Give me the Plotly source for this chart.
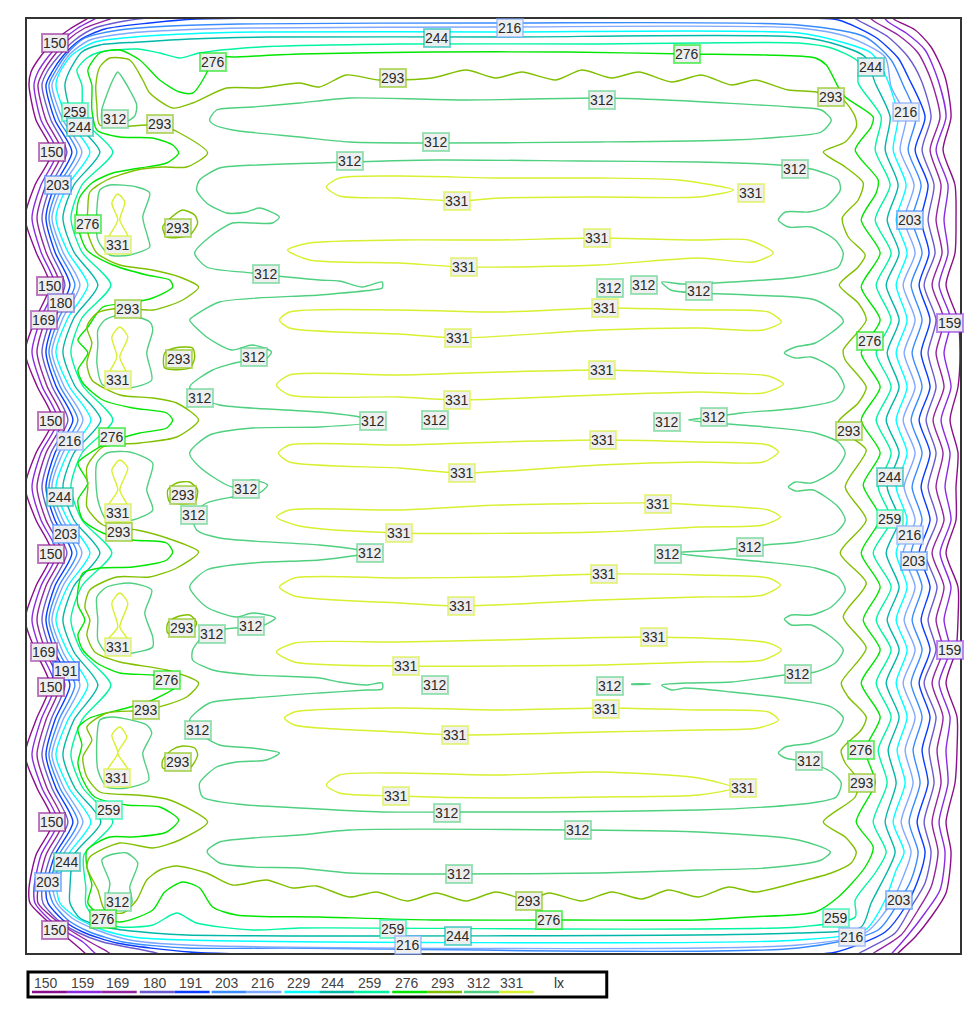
import plotly.graph_objects as go

levels = [150, 159, 169, 180, 191, 203, 216, 229, 244, 259, 276, 293, 312, 331]
level_colors = ["#8b0f8b", "#8a2be2", "#93249f", "#6a5acd", "#0a3cff", "#3a8bff", "#7fa8ff",
                "#00ffff", "#00b8a8", "#00f5a0", "#00e600", "#80c000", "#4fd080", "#d8f030"]

# Outer rings: x on left side per row, x on right side per row, and four corners
left_rows = [85,120,152,185,218,252,285,318,352,386,420,453,487,520,553,586,620,652,685,720,755,788,822,855,888]
left_150 = [29,36,52,35,25,36,50,36,25,37,53,36,25,36,52,36,25,36,50,36,25,37,53,36,29]
left_159 = [34,41,57,41,32,41,55,41,32,42,58,41,32,41,57,41,32,41,55,41,32,42,58,41,34]
left_169 = [38,46,62,46,37,46,60,46,37,47,63,46,37,46,62,46,37,46,60,46,37,47,63,46,38]
left_180 = [42,51,67,51,42,51,65,51,42,52,68,51,42,51,67,51,42,51,65,51,42,52,68,51,42]
left_191 = [46,55,72,55,46,55,70,55,46,56,73,55,46,55,72,55,46,55,70,55,46,56,73,55,46]
left_203 = [49,59,77,59,49,59,75,59,49,60,78,59,49,59,77,59,49,59,75,59,49,60,78,59,49]
left_216 = [52,63,82,63,52,63,80,63,52,64,83,63,52,63,82,63,52,63,80,63,52,64,83,63,53]
left_229 = [56,68,90,68,56,68,88,68,56,69,91,68,56,68,90,68,56,68,88,68,56,69,91,68,57]
left_244 = [65,74,100,74,63,74,98,74,63,75,101,74,63,74,100,74,63,74,98,74,63,75,101,74,70]
left_259 = [82,84,113,82,71,82,111,82,71,83,113,82,71,82,112,82,71,82,111,82,71,83,113,84,86]

right_rows = [117,150,185,220,253,285,320,353,387,420,453,487,520,553,587,620,650,683,717,750,783,822,852]
right_150 = [953,945,957,958,957,948,960,962,960,952,960,958,958,948,960,960,958,948,959,959,957,948,953]
right_159 = [948,938,950,946,950,941,953,946,953,943,952,947,953,942,953,946,952,941,952,948,950,941,947]
right_169 = [942,932,943,938,944,934,946,938,946,935,945,938,946,934,946,938,945,934,945,939,943,934,940]
right_180 = [933,924,936,930,937,926,938,930,938,928,938,930,939,927,939,930,938,926,938,931,936,926,933]
right_191 = [927,917,930,923,931,921,932,923,932,921,932,923,932,921,932,923,932,921,932,924,930,919,927]
right_203 = [918,910,923,914,924,913,924,914,924,913,924,914,924,913,924,914,924,913,924,915,922,911,920]
right_216 = [908,902,916,906,917,905,917,906,917,905,917,906,917,905,917,906,917,905,917,907,915,903,913]
right_229 = [900,895,908,898,909,898,909,898,909,898,909,898,909,898,909,898,909,898,909,899,907,895,906]
right_244 = [892,887,900,889,901,888,901,889,901,888,901,889,901,888,901,889,901,888,901,890,898,887,897]
right_259 = [883,877,892,877,893,878,893,878,893,878,893,880,893,875,893,878,893,878,893,880,889,875,888]

tl_150 = [(31,72),(38,60),(53,42),(70,29),(87,19),(100,11)]
tl_159 = [(38,72),(48,57),(63,40),(78,28),(95,19),(110,11)]
tl_169 = [(43,72),(53,57),(68,40),(85,28),(110,19),(130,11)]
tl_180 = [(47,72),(58,57),(75,40),(95,28),(125,21),(155,17),(200,11)]
tl_191 = [(52,72),(63,56),(80,40),(105,29),(150,23),(197,19),(300,18),(500,17)]
tl_203 = [(55,72),(67,54),(85,38),(120,30),(170,26),(240,24),(500,23)]
tl_216 = [(58,72),(70,54),(90,40),(130,33),(180,30),(250,28),(500,27)]
tl_229 = [(60,72),(72,55),(95,42),(135,37),(185,34),(260,32),(500,32)]
tl_244 = [(70,70),(82,52),(100,45),(140,42),(190,39),(270,37),(500,37)]
tl_259 = [(77,70),(87,58),(100,52),(137,49),(160,53),(180,58),(200,53),(260,47),(400,44),(600,44)]

tr_150 = [(885,11),(897,20),(917,30),(933,47),(947,77)]
tr_159 = [(878,11),(890,22),(908,33),(927,50),(940,80)]
tr_169 = [(860,11),(877,22),(900,35),(920,53),(933,80)]
tr_180 = [(840,11),(863,22),(890,37),(910,57),(923,80)]
tr_191 = [(800,18),(840,20),(877,37),(900,58),(910,77)]
tr_203 = [(800,25),(867,37),(893,60),(905,85)]
tr_216 = [(800,28),(850,37),(887,57),(893,87)]
tr_229 = [(800,33),(843,42),(873,53),(888,77)]
tr_244 = [(800,37),(840,45),(867,57),(877,83)]
tr_259 = [(700,43),(800,43),(833,48),(860,62),(860,83)]

br_150 = [(890,962),(900,953),(917,937),(933,917),(948,893)]
br_159 = [(885,962),(895,952),(910,935),(927,913),(942,890)]
br_169 = [(860,962),(877,952),(903,935),(920,910),(933,887)]
br_180 = [(845,962),(863,952),(897,933),(913,907),(927,883)]
br_191 = [(800,955),(838,952),(887,932),(907,907),(920,880)]
br_203 = [(800,948),(880,930),(900,903),(913,880)]
br_216 = [(800,945),(867,933),(893,903),(905,877)]
br_229 = [(800,940),(867,930),(887,900),(898,870)]
br_244 = [(800,933),(863,927),(873,903),(890,870)]
br_259 = [(800,927),(857,917),(857,900),(877,873)]

bl_150 = [(30,903),(43,917),(57,930),(70,940),(85,953),(95,962)]
bl_159 = [(35,903),(50,920),(63,930),(83,942),(95,953),(105,962)]
bl_169 = [(38,903),(53,918),(70,930),(90,942),(108,952),(125,962)]
bl_180 = [(43,903),(58,920),(77,932),(103,942),(153,952),(190,962)]
bl_191 = [(48,903),(63,920),(83,932),(117,943),(190,952),(300,955)]
bl_203 = [(53,903),(68,920),(90,932),(123,942),(187,948),(287,948)]
bl_216 = [(57,903),(72,918),(97,930),(130,940),(187,945)]
bl_229 = [(60,903),(77,918),(103,930),(133,937),(187,940)]
bl_244 = [(70,903),(80,918),(110,928),(153,933),(187,935)]
bl_259 = [(86,905),(97,920),(120,927),(153,925),(177,913),(197,923),(253,930),(300,928)]

# Inner isolines (closed)
iso_276 = [(97,130),(92,110),(92,85),(88,70),(100,53),(120,50),(140,60),(160,80),(180,92),(193,93),(207,73),(213,57),(233,57),(300,54),(433,52),(567,52),(688,54),(767,55),(817,58),(828,65),(840,87),(847,97),(875,117),(873,127),(857,150),(880,180),(878,193),(863,220),(882,253),(863,287),(882,320),(863,353),(882,387),(863,420),(882,453),(865,485),(882,518),(863,553),(882,587),(865,620),(882,650),(863,683),(882,717),(867,750),(877,783),(858,822),(875,847),(867,867),(840,897),(817,912),(750,917),(700,920),(567,920),(433,920),(320,917),(237,915),(213,907),(200,888),(183,882),(165,892),(153,910),(120,922),(100,915),(88,903),(92,885),(87,867),(87,850),(110,837),(133,837),(167,832),(179,820),(160,807),(127,805),(95,797),(83,780),(78,763),(82,745),(78,728),(90,718),(127,708),(153,700),(175,688),(180,680),(153,675),(120,673),(97,663),(83,650),(78,635),(85,620),(78,605),(78,590),(83,573),(100,568),(133,567),(167,560),(173,552),(167,543),(133,540),(103,533),(83,520),(78,500),(88,483),(78,463),(90,453),(110,442),(140,433),(167,428),(173,420),(167,413),(133,408),(103,400),(83,383),(78,370),(88,353),(78,340),(88,327),(103,307),(130,303),(153,298),(173,287),(170,280),(147,275),(113,265),(87,250),(78,227),(77,210),(80,197),(92,183),(113,173),(140,168),(167,163),(179,153),(173,145),(153,138),(120,137)]

iso_293 = [(100,125),(97,105),(96,85),(100,67),(110,58),(130,60),(143,80),(150,93),(173,108),(193,103),(227,88),(260,88),(300,83),(320,87),(347,75),(380,80),(433,78),(467,70),(497,78),(523,72),(557,80),(583,70),(613,78),(640,72),(673,82),(703,75),(733,85),(757,80),(790,90),(818,92),(845,100),(857,117),(858,127),(847,142),(825,152),(847,167),(865,183),(860,200),(844,218),(850,237),(867,255),(860,267),(841,285),(860,303),(868,320),(845,350),(847,360),(868,387),(860,403),(840,422),(850,435),(868,450),(847,487),(868,520),(842,553),(868,583),(845,617),(868,648),(843,683),(850,697),(868,717),(863,730),(843,750),(847,763),(860,780),(857,797),(825,822),(847,837),(858,852),(853,863),(833,873),(800,882),(757,892),(730,887),(700,897),(670,890),(643,899),(613,892),(583,901),(550,893),(530,900),(497,892),(467,901),(437,893),(408,901),(377,892),(350,897),(317,886),(293,888),(267,880),(233,885),(207,873),(177,866),(160,870),(147,880),(137,900),(123,913),(105,910),(98,890),(87,867),(90,857),(120,843),(153,848),(180,840),(208,822),(170,800),(137,795),(100,792),(87,777),(83,757),(92,740),(87,727),(107,713),(147,710),(187,697),(199,683),(167,670),(120,662),(95,652),(87,635),(90,620),(85,607),(90,590),(117,577),(150,577),(177,568),(199,552),(167,538),(137,530),(103,525),(87,507),(88,487),(87,467),(103,447),(140,443),(177,437),(199,420),(177,403),(153,398),(120,395),(92,380),(87,363),(92,343),(87,327),(97,313),(120,308),(153,310),(183,300),(199,287),(180,277),(153,270),(120,265),(97,253),(88,233),(88,207),(90,192),(107,180),(137,170),(163,167),(187,167),(208,153),(180,133),(160,125)]

spot_293_a = [(172,217),(183,210),(195,215),(198,223),(190,235),(167,237),(163,227)]
spot_293_b = [(165,353),(175,348),(193,348),(195,358),(190,368),(165,368)]
spot_293_c = [(168,490),(177,483),(190,482),(198,490),(195,502),(170,502)]
spot_293_d = [(168,623),(177,617),(190,615),(197,623),(190,633),(168,633)]
spot_293_e = [(172,750),(183,746),(195,748),(198,755),(190,768),(163,768),(163,760)]

comb_312 = [(220,168),(237,166),(320,163),(438,160),(580,161),(700,162),(780,165),(817,170),(840,180),(842,190),(827,207),(810,212),(787,212),(780,220),(790,227),(813,227),(837,240),(845,253),(840,267),(800,277),(733,282),(683,284),(663,282),(672,290),(700,293),(750,295),(817,300),(843,317),(845,322),(817,343),(797,347),(786,353),(797,358),(813,357),(837,370),(846,387),(837,400),(800,408),(743,413),(715,417),(690,420),(715,423),(730,424),(767,427),(817,433),(840,442),(847,453),(837,470),(813,483),(797,482),(790,487),(797,491),(815,490),(840,507),(847,520),(837,533),(800,542),(767,545),(723,550),(685,552),(675,553),(700,556),(723,558),(767,562),(817,568),(840,577),(847,590),(833,607),(813,615),(793,615),(786,619),(793,625),(813,625),(833,637),(845,650),(837,663),(817,672),(787,675),(733,682),(687,683),(663,685),(673,690),(687,688),(733,692),(800,700),(833,707),(845,718),(837,733),(813,743),(787,747),(780,753),(787,758),(811,762),(833,772),(843,783),(838,797),(813,803),(767,807),(700,810),(550,812),(448,812),(383,812),(300,808),(237,804),(203,797),(200,783),(217,767),(237,762),(267,760),(280,753),(253,748),(220,745),(198,732),(190,720),(210,703),(253,698),(320,693),(367,690),(383,689),(383,683),(367,685),(340,682),(320,678),(253,675),(213,670),(193,660),(193,650),(207,633),(235,628),(260,627),(276,618),(253,613),(237,617),(207,607),(190,587),(207,570),(253,563),(320,560),(360,555),(372,553),(360,550),(320,545),(220,538),(197,530),(193,515),(207,503),(233,497),(260,493),(268,485),(253,480),(233,487),(200,467),(190,453),(210,435),(253,428),(320,427),(372,422),(360,417),(320,412),(220,405),(200,397),(190,387),(213,370),(240,362),(265,360),(272,352),(253,345),(232,350),(207,337),(190,320),(193,317),(220,302),(320,295),(373,290),(383,288),(383,282),(363,287),(340,281),(320,280),(253,273),(207,267),(195,253),(210,237),(233,223),(253,223),(273,223),(280,217),(260,208),(247,212),(227,213),(207,203),(197,190),(200,180)]
top_312 = [(210,120),(217,110),(253,107),(300,103),(350,98),(467,100),(600,98),(667,100),(793,107),(823,110),(833,120),(823,132),(783,137),(733,140),(600,142),(440,143),(350,142),(300,137),(233,130),(215,125)]
bottom_312 = [(208,850),(220,842),(253,838),(300,835),(350,830),(580,830),(700,832),(800,840),(832,852),(823,860),(767,868),(700,870),(600,873),(460,874),(350,873),(300,868),(253,867),(220,863),(208,853)]
corner_312_a = [(118,72),(124,80),(131,92),(137,105),(135,116),(123,123),(103,123),(102,110),(108,92),(113,80)]
corner_312_b = [(102,860),(110,855),(127,853),(138,863),(130,887),(132,903),(107,907),(110,883)]
peak_312_a = [(100,190),(110,185),(137,187),(150,193),(143,217),(148,237),(150,247),(130,255),(110,255),(98,240),(97,210)]
peak_312_b = [(98,330),(105,320),(125,314),(150,322),(153,330),(147,353),(152,380),(130,388),(103,385),(97,363),(98,345)]
peak_312_c = [(97,463),(107,453),(130,452),(153,463),(147,490),(153,510),(133,520),(107,520),(98,500)]
peak_312_d = [(97,597),(107,587),(130,583),(152,590),(145,613),(153,637),(153,647),(133,653),(107,653),(98,640),(98,620)]
peak_312_e = [(100,720),(113,717),(147,725),(152,733),(143,753),(149,780),(127,788),(107,787),(98,770),(97,740)]
dash_312 = [(633,684),(652,684),(633,684.5)]

band_331_a = [(327,187),(340,178),(400,176),(500,178),(600,178),(680,180),(735,190),(700,197),(600,197),(500,198),(459,201),(400,198),(340,196)]
band_331_b = [(288,250),(310,243),(400,240),(500,240),(598,238),(700,240),(750,240),(775,253),(755,262),(700,258),(600,265),(465,267),(400,263),(310,260)]
band_331_c = [(280,320),(290,312),(400,310),(500,312),(607,308),(700,310),(770,312),(783,322),(765,330),(700,328),(600,330),(460,338),(400,334),(290,328)]
band_331_d = [(277,385),(290,375),(400,375),(500,372),(603,370),(700,373),(770,376),(785,384),(765,393),(700,392),(600,395),(458,400),(400,397),(290,395)]
band_331_e = [(279,453),(290,445),(400,445),(500,442),(604,440),(700,442),(770,445),(780,452),(765,462),(700,462),(600,465),(463,473),(400,468),(290,462)]
band_331_f = [(277,517),(290,510),(400,510),(500,505),(659,503),(700,505),(770,510),(782,517),(765,525),(700,527),(600,532),(400,533),(300,526)]
band_331_g = [(280,587),(295,578),(400,578),(500,577),(605,574),(700,575),(770,578),(782,585),(765,595),(700,597),(600,600),(462,606),(400,603),(295,596)]
band_331_h = [(277,652),(295,643),(400,642),(500,640),(655,637),(770,643),(783,650),(765,660),(700,662),(600,665),(407,666),(295,662)]
band_331_i = [(285,718),(295,712),(400,708),(500,710),(607,708),(700,710),(770,712),(780,720),(760,728),(700,730),(600,732),(456,735),(400,732),(295,725)]
band_331_j = [(327,785),(340,775),(400,773),(500,775),(600,772),(700,778),(735,788),(700,795),(600,797),(500,798),(398,796),(340,793)]
glass_331_a = [(118,194),(125,202),(120,220),(128,237),(108,240),(118,220),(112,203)]
glass_331_b = [(120,327),(128,337),(120,357),(128,377),(108,377),(117,357),(112,337)]
glass_331_c = [(120,460),(128,468),(120,490),(128,507),(108,507),(118,490),(112,470)]
glass_331_d = [(120,593),(128,603),(120,627),(128,640),(108,640),(118,627),(112,603)]
glass_331_e = [(120,727),(127,737),(118,753),(128,770),(108,770),(118,753),(112,735)]

# Contour labels
label_text = [216,150,244,276,276,244,293,293,312,259,216,312,244,293,312,150,312,312,203,331,331,276,293,203,331,331,312,331,150,312,312,312,180,293,331,169,159,331,276,312,293,331,331,331,312,312,312,312,312,150,293,216,276,331,331,244,244,293,312,331,331,312,259,331,293,203,216,150,312,312,312,203,331,331,293,312,312,331,331,159,169,191,331,312,150,312,312,276,293,331,312,331,276,312,293,331,293,331,331,259,312,150,312,244,312,203,312,293,203,276,259,276,150,259,244,216,216]
label_x = [511,55,438,213,688,873,394,833,603,75,908,115,80,160,437,52,351,797,58,753,458,88,178,912,118,598,267,465,50,611,645,700,61,128,606,44,952,459,872,254,179,603,118,458,200,374,436,668,715,51,851,70,112,604,463,892,60,183,246,659,118,194,892,400,119,66,912,51,371,669,752,916,605,462,182,212,251,118,655,952,44,66,407,800,51,436,611,167,146,607,198,456,863,811,178,117,864,745,397,109,448,52,579,67,460,48,118,530,901,103,838,550,55,394,459,854,409]
label_y = [28,43,38,62,54,67,78,97,100,112,112,119,127,124,142,152,161,169,185,193,201,224,228,220,245,238,274,267,286,288,285,291,303,309,308,320,323,338,341,357,359,370,380,400,398,421,420,422,417,421,431,441,437,440,473,477,497,495,489,504,513,515,519,533,532,534,535,554,553,554,547,561,574,606,628,634,626,647,637,650,652,671,666,674,687,685,686,680,710,709,730,735,750,761,762,778,783,788,796,810,813,822,830,862,874,882,902,901,900,919,918,920,930,929,936,937,945]

# Legend
legend_label_x = [46,83,118,155,191,227,264,300,334,371,408,444,480,513]
legend_bar_start = [32,67,102,140,175,212,247,285,320,355,393,428,465,500]
legend_bar_width = 35
legend_unit = "lx"

W, H = 967, 1009
L, R, T, B = 27, 962, 19, 953


def ring(tl, tr, right_rows_x, br, bl, left_rows_x):
    pts = list(tl) + list(tr)
    pts += list(zip(right_rows_x, right_rows))
    pts += list(reversed(br)) + list(reversed(bl))
    pts += list(reversed(list(zip(left_rows_x, left_rows))))
    return pts


level_loops = {
    150: [ring(tl_150, tr_150, right_150, br_150, bl_150, left_150)],
    159: [ring(tl_159, tr_159, right_159, br_159, bl_159, left_159)],
    169: [ring(tl_169, tr_169, right_169, br_169, bl_169, left_169)],
    180: [ring(tl_180, tr_180, right_180, br_180, bl_180, left_180)],
    191: [ring(tl_191, tr_191, right_191, br_191, bl_191, left_191)],
    203: [ring(tl_203, tr_203, right_203, br_203, bl_203, left_203)],
    216: [ring(tl_216, tr_216, right_216, br_216, bl_216, left_216)],
    229: [ring(tl_229, tr_229, right_229, br_229, bl_229, left_229)],
    244: [ring(tl_244, tr_244, right_244, br_244, bl_244, left_244)],
    259: [ring(tl_259, tr_259, right_259, br_259, bl_259, left_259)],
    276: [iso_276],
    293: [iso_293, spot_293_a, spot_293_b, spot_293_c, spot_293_d, spot_293_e],
    312: [comb_312, top_312, bottom_312, corner_312_a, corner_312_b, peak_312_a, peak_312_b,
          peak_312_c, peak_312_d, peak_312_e, dash_312],
    331: [band_331_a, band_331_b, band_331_c, band_331_d, band_331_e, band_331_f, band_331_g,
          band_331_h, band_331_i, band_331_j, glass_331_a, glass_331_b, glass_331_c, glass_331_d,
          glass_331_e],
}


def soft(hex_colour, alpha):
    r, g, b = int(hex_colour[1:3], 16), int(hex_colour[3:5], 16), int(hex_colour[5:7], 16)
    return f"rgba({r},{g},{b},{alpha})"


fig = go.Figure()
for lev, col in zip(levels, level_colors):
    xs, ys = [], []
    for loop in level_loops[lev]:
        closed = list(loop) + [loop[0]]
        xs += [p[0] for p in closed] + [None]
        ys += [p[1] for p in closed] + [None]
    fig.add_trace(go.Scatter(x=xs, y=ys, mode="lines", name=f"{lev} lx", showlegend=False,
                             hoverinfo="skip",
                             line=dict(color=col, width=1.4, shape="spline", smoothing=0.7, simplify=False)))

colour_of = dict(zip(levels, level_colors))
annotations = []
for t, x, y in zip(label_text, label_x, label_y):
    annotations.append(dict(x=x, y=y, xref="x", yref="y", text=str(t), showarrow=False,
                            font=dict(family="Liberation Sans", size=14, color="#2a2a2a"),
                            bgcolor="rgba(238,238,238,0.96)", bordercolor=soft(colour_of[t], 0.55), borderwidth=2,
                            borderpad=0))


def px(x):
    return (x - L) / (R - L)


def py(y):
    return (B - y) / (B - T)


shapes = []
for s, col, lab, lx_ in zip(legend_bar_start, level_colors, levels, legend_label_x):
    shapes.append(dict(type="line", xref="paper", yref="paper", x0=px(s), x1=px(s + legend_bar_width),
                       y0=py(992), y1=py(992), line=dict(color=col, width=2.5)))
    annotations.append(dict(x=px(lx_), y=py(983), xref="paper", yref="paper", text=str(lab), showarrow=False,
                            xanchor="center", yanchor="middle",
                            font=dict(family="Liberation Sans", size=14, color="#444444")))
annotations.append(dict(x=px(560), y=py(983), xref="paper", yref="paper", text=legend_unit, showarrow=False,
                        xanchor="center", yanchor="middle",
                        font=dict(family="Liberation Sans", size=14, color="#333333")))
shapes.append(dict(type="rect", xref="paper", yref="paper", x0=px(28), x1=px(608), y0=py(972), y1=py(997),
                   line=dict(color="#000000", width=3)))

axis = dict(showgrid=False, zeroline=False, showticklabels=False, ticks="", showline=True, mirror=True,
            linecolor="#333333", linewidth=2)
fig.update_layout(width=W, height=H, margin=dict(l=L, r=W - R, t=T, b=H - B), paper_bgcolor="white",
                  plot_bgcolor="white", showlegend=False, annotations=annotations, shapes=shapes,
                  xaxis=dict(axis, range=[L, R]), yaxis=dict(axis, range=[B, T]))
fig.write_html("out.html", config={"displayModeBar": False},
               post_script="document.body.style.margin='0';document.body.style.overflow='hidden';")
